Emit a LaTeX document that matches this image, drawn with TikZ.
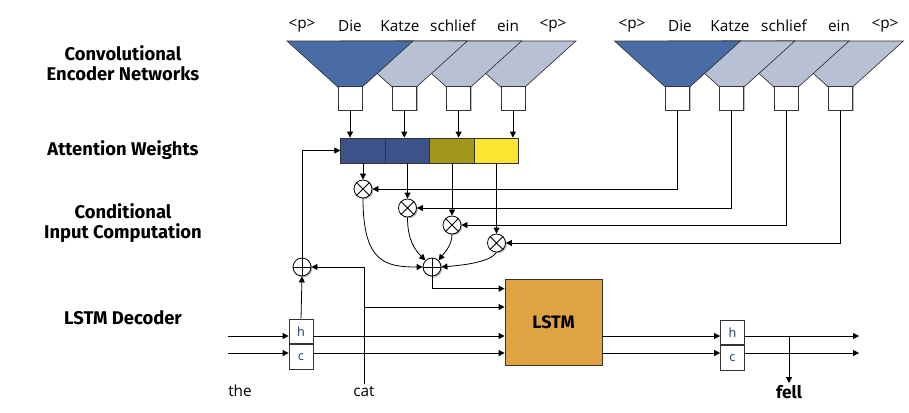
\documentclass[tikz,border=0pt]{standalone}
\usepackage{fontspec}
\setmainfont{Open Sans}
\newfontfamily\labfont{Fira Sans}
\usetikzlibrary{arrows.meta,shadows}
\definecolor{triblue}{HTML}{4A6CA6}
\definecolor{trigrey}{HTML}{B8C1D3}
\definecolor{attblue}{HTML}{3C5289}
\definecolor{attolive}{HTML}{A2961D}
\definecolor{attyellow}{HTML}{FDE52F}
\definecolor{lstmorange}{HTML}{DEA344}
\definecolor{hcblue}{HTML}{1F3A70}
\definecolor{edge}{HTML}{333333}
\begin{document}
\begin{tikzpicture}[x=0.75pt,y=-0.75pt,
  line width=0.6pt,
  arr/.style={-{Triangle[length=4.5pt,width=4.5pt]}},
  shd/.style={drop shadow={shadow xshift=1pt,shadow yshift=-1pt,opacity=0.25,fill=black}},
  sq/.style={draw=edge,fill=white,minimum width=18pt,minimum height=18pt,inner sep=0pt,shd},
  att/.style={draw=edge,minimum width=33.4pt,minimum height=18.75pt,inner sep=0pt},
  op/.style={circle,draw=black,fill=white,minimum size=13.5pt,inner sep=0pt,shd},
  lab/.style={font=\labfont\bfseries\fontsize{13.8}{15}\selectfont,align=center},
  word/.style={font=\fontsize{11.5}{13}\selectfont,inner sep=1pt},
  hc/.style={draw=edge,fill=white,minimum width=18pt,minimum height=18.4pt,inner sep=0pt,font=\fontsize{9.5}{11}\selectfont,text=hcblue}
]
\useasboundingbox (0,0) rectangle (909,412);

% ---------- labels ----------
\node[lab] (labenc) at (123,63) {Convolutional\\Encoder Networks};
\node[lab] (labatt) at (123,150) {Attention Weights};
\node[lab] (labcond) at (123,223) {Conditional\\Input Computation};
\node[lab] (lablstm) at (123,318) {LSTM Decoder};

% ---------- encoders ----------
\foreach \e/\ox in {L/350,R/677.5}{
  \foreach \k in {3,2,1}{
    \pgfmathsetmacro{\cx}{\ox+54.3*\k}
    \filldraw[fill=trigrey,draw=edge,line width=0.5pt] (\cx-63,41) -- (\cx+63,41) -- (\cx,98) -- cycle;
  }
  \filldraw[fill=triblue,draw=edge,line width=0.5pt] (\ox-63,41) -- (\ox+63,41) -- (\ox,98) -- cycle;
  \foreach \k in {0,1,2,3}{
    \pgfmathsetmacro{\cx}{\ox+54.3*\k}
    \node[sq] (\e\k) at (\cx,98) {};
  }
}
% words
\foreach \w/\x [count=\i] in {{<p>}/302,Die/350,Katze/400,schlief/453,ein/508,{<p>}/553}{
  \node[word] (lw\i) at (\x,26) {\w};
}
\foreach \w/\x [count=\i] in {{<p>}/632,Die/680,Katze/730,schlief/784,ein/839,{<p>}/885}{
  \node[word] (rw\i) at (\x,26) {\w};
}

% ---------- attention ----------
\node[att,fill=attblue] (A0) at (363,150.5) {};
\node[att,fill=attblue] (A1) at (407.5,150.5) {};
\node[att,fill=attolive] (A2) at (452,150.5) {};
\node[att,fill=attyellow] (A3) at (496.5,150.5) {};
\foreach \k in {0,1,2,3}{
  \draw[arr] (L\k.south) -- (L\k.south |- A0.north);
}

% ---------- multiply ----------
\node[op] (m0) at (363,189) {};
\node[op] (m1) at (407.5,208) {};
\node[op] (m2) at (452,225) {};
\node[op] (m3) at (496.5,243) {};
\foreach \k in {0,1,2,3}{
  \draw (m\k.north west) -- (m\k.south east) (m\k.north east) -- (m\k.south west);
  \draw[arr] (A\k.south) -- (m\k.north);
  \draw[arr] (R\k.south) |- (m\k.east);
}

% ---------- sums ----------
\node[op] (s) at (432,267) {};
\node[op] (p) at (302,267) {};
\foreach \n in {s,p}{
  \draw (\n.north) -- (\n.south) (\n.west) -- (\n.east);
}
\draw[arr] (m0.south) .. controls (363,262) and (385,267) .. (s.west);
\draw[arr] (m1.south) .. controls (407.5,240) and (415,250) .. (s.north west);
\draw[arr] (m2.south) .. controls (452,245) and (445,252) .. (s.north east);
\draw[arr] (m3.south) .. controls (490,262) and (465,265) .. (s.east);

% ---------- LSTM ----------
\node[draw=edge,fill=lstmorange,minimum width=72.75pt,minimum height=64.5pt,inner sep=0pt,shd,
  font=\labfont\bfseries\fontsize{13.5}{15}\selectfont] (lstm) at (553.5,322) {LSTM};

\node[hc,anchor=south] (hl) at (301,344) {h};
\node[hc,anchor=north] (cl) at (301,344) {c};
\node[hc,anchor=south] (hr) at (732.5,345) {h};
\node[hc,anchor=north] (cr) at (732.5,345) {c};

\node[word,anchor=base] (the) at (240,396) {the};
\node[word,anchor=base] (cat) at (364,396) {cat};
\node[font=\labfont\bfseries\fontsize{13}{15}\selectfont,anchor=base,inner sep=1pt] (fell) at (789,398) {fell};

\coordinate (hin) at (228,336);
\coordinate (cin) at (228,353);
\coordinate (hout) at (859,336);
\coordinate (cout) at (859,353);

\draw[arr] (hin) -- (hin -| hl.west);
\draw[arr] (cin) -- (cin -| cl.west);
\draw[arr] (hin -| hl.east) -- (hin -| lstm.west);
\draw[arr] (cin -| cl.east) -- (cin -| lstm.west);
\draw[arr] (hin -| lstm.east) -- (hin -| hr.west);
\draw[arr] (cin -| lstm.east) -- (cin -| cr.west);
\draw[arr] (hin -| hr.east) -- (hout);
\draw[arr] (cin -| cr.east) -- (cout);
\draw[arr] (hout -| fell.north) -- (fell.north);

% skip / inputs
\draw[arr] (hl.north) -- (p.south);
\draw[arr] (p.north) |- (A0.west);
\draw[arr] (cat.north) |- (p.east);
\coordinate (catj) at (364,307);
\draw[arr] (catj) -- (catj -| lstm.west);
\draw[arr] (s.south) |- ([yshift=-7.5pt]lstm.north west);
\end{tikzpicture}
\end{document}
